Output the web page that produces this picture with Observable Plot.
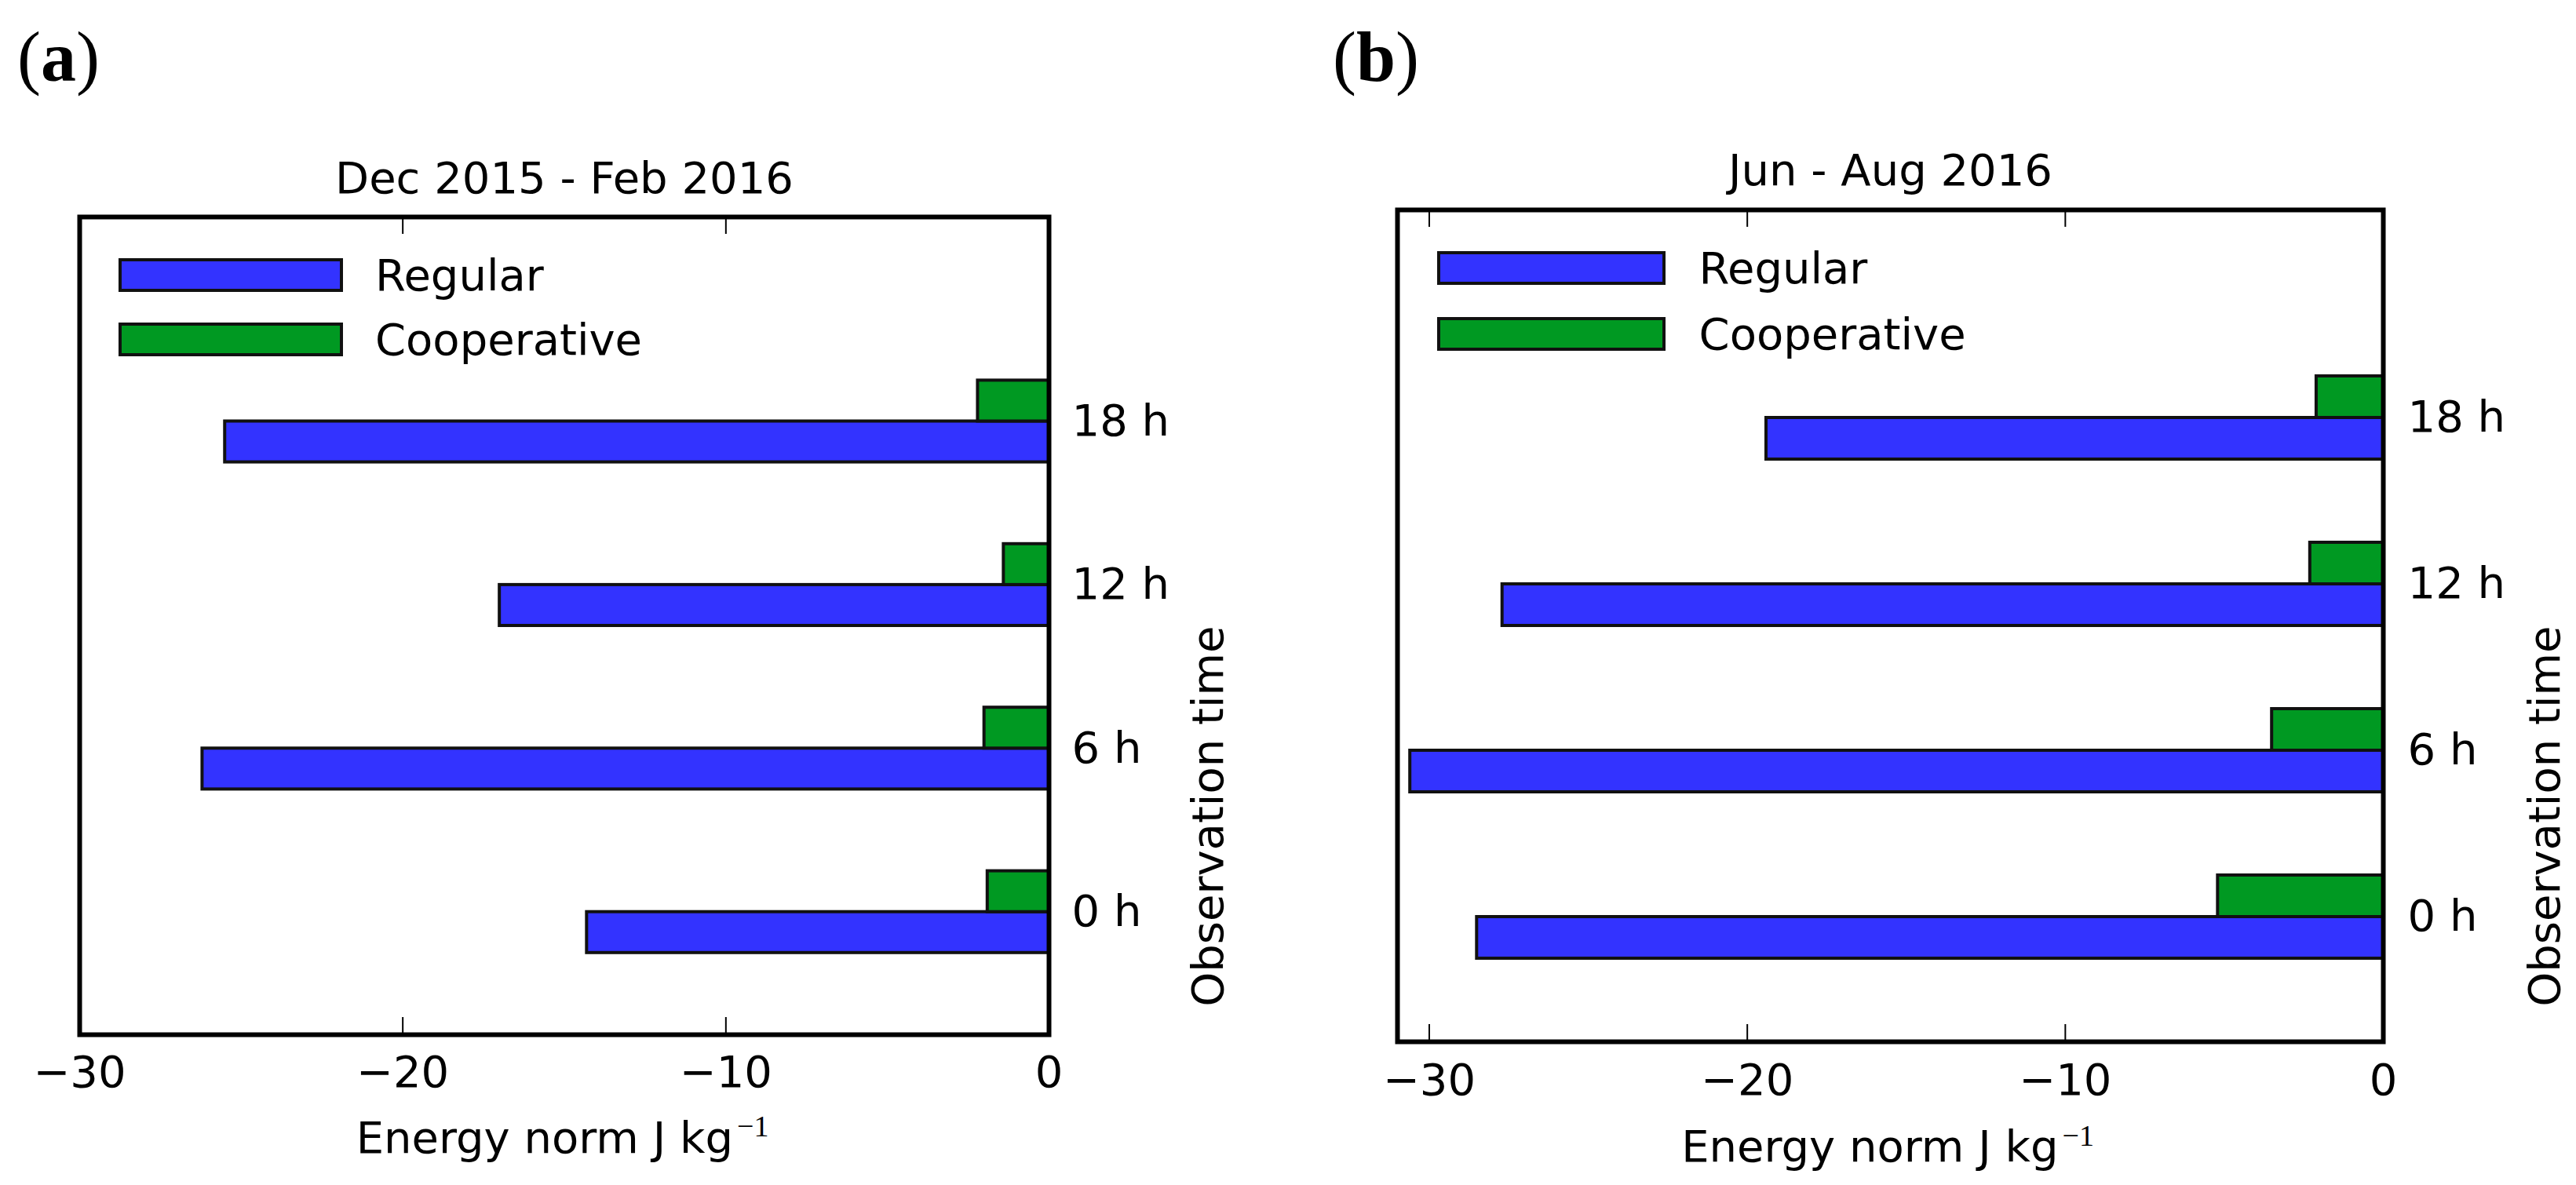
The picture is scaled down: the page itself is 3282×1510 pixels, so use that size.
<!DOCTYPE html>
<html>
<head>
<meta charset="utf-8">
<script src="https://cdn.jsdelivr.net/npm/d3@7"></script>
<script src="https://cdn.jsdelivr.net/npm/@observablehq/plot@0.6"></script>
<style>
  html, body { margin: 0; padding: 0; background: #fff; }
  #root { position: relative; width: 3282px; height: 1510px; background: #fff; overflow: hidden; }
  .panel { position: absolute; top: 0; width: 1641px; height: 1510px; }
  .panel svg.overlay { position: absolute; left: 0; top: 0; pointer-events: none; }
</style>
</head>
<body>
<div id="root"></div>
<script>
// ---------------- data ----------------
const categories = ["0 h", "6 h", "12 h", "18 h"];
const seriesNames = ["Regular", "Cooperative"];
const seriesColors = ["#3333ff", "#009922"];
const regularA = [-14.3, -26.2, -17.0, -25.5];
const cooperativeA = [-1.9, -2.0, -1.4, -2.2];
const regularB = [-28.5, -30.6, -27.7, -19.4];
const cooperativeB = [-5.2, -3.5, -2.3, -2.1];
const xTicks = [-30, -20, -10, 0];
const xDomainA = [-30, 0];
const xDomainB = [-31, 0];
const titles = ["Dec 2015 - Feb 2016", "Jun - Aug 2016"];
const panelLetters = ["a", "b"];
const xLabel = "Energy norm J kg";
const xLabelSup = "\u22121";
const yLabel = "Observation time";

// ---------------- layout ----------------
const barH = 0.25;
const yDomain = [-0.5, 4.5];
const layouts = [
  { left: 0, mt: 276, mr: 305, mb: 192, ml: 101, titleDy: -31, yLabDx: 203.5, yTickPad: 29, xTickPad: 27,
    labDy: 150, labEndDx: 215, supDy: 129, supDx: 220,
    letterX: 22, letterY: 103,
    legX: 153, legW: 282, legY: [331, 413], legH: 39, legTextX: 478, legBase: [370, 452] },
  { left: 1641, mt: 267, mr: 246, mb: 183, ml: 139, titleDy: -32, yLabDx: 206.5, yTickPad: 31, xTickPad: 28,
    labDy: 152.5, labEndDx: 214, supDy: 132, supDx: 219,
    letterX: 57, letterY: 103,
    legX: 192, legW: 287, legY: [322, 406], legH: 39, legTextX: 523.6, legBase: [361, 444.6] }
];
const W = 1641, H = 1510;
const FONT = "DejaVu Sans";

function makePanel(k, regular, coop, xDomain) {
  const L = layouts[k];
  const rows = [];
  categories.forEach((c, i) => {
    rows.push({ cat: c, series: seriesNames[0], value: regular[i], y1: i, y2: i + barH });
    rows.push({ cat: c, series: seriesNames[1], value: coop[i], y1: i + barH, y2: i + 2 * barH });
  });
  const innerH = H - L.mt - L.mb;
  const chart = Plot.plot({
    width: W, height: H,
    marginTop: L.mt, marginRight: L.mr, marginBottom: L.mb, marginLeft: L.ml,
    x: { domain: xDomain },
    y: { domain: yDomain },
    color: { domain: seriesNames, range: seriesColors },
    style: { fontFamily: FONT, fontSize: "56px", background: "white", color: "black", overflow: "visible" },
    marks: [
      Plot.rect(rows, { x1: 0, x2: "value", y1: "y1", y2: "y2", fill: "series", stroke: "#111", strokeWidth: 4 }),
      Plot.ruleX(xTicks, { insetTop: innerH - 22, stroke: "black", strokeWidth: 2 }),
      Plot.ruleX(xTicks, { insetBottom: innerH - 22, stroke: "black", strokeWidth: 2 }),
      Plot.frame({ stroke: "black", strokeWidth: 6 }),
      Plot.axisX({ anchor: "bottom", ticks: xTicks, tickSize: 0, tickPadding: L.xTickPad,
        tickFormat: d3.format("d"), label: null, fontSize: 56 }),
      Plot.axisY({ anchor: "right", ticks: categories.map((c, i) => i + barH), tickSize: 0,
        tickPadding: L.yTickPad, tickFormat: d => categories[Math.round(d - barH)], label: null, fontSize: 56 }),
      Plot.text([titles[k]], { text: d => d, frameAnchor: "top", lineAnchor: "bottom", dy: L.titleDy, fontSize: 56 }),
      Plot.text([yLabel], { text: d => d, frameAnchor: "right", rotate: -90, dx: L.yLabDx, fontSize: 56 }),
      Plot.text([xLabel], { text: d => d, frameAnchor: "bottom", lineAnchor: "bottom", textAnchor: "end",
        dx: L.labEndDx, dy: L.labDy, fontSize: 56 }),
      Plot.text([xLabelSup], { text: d => d, frameAnchor: "bottom", lineAnchor: "bottom", textAnchor: "start",
        dx: L.supDx, dy: L.supDy, fontSize: 38, fontFamily: "Liberation Serif" })
    ]
  });

  const panel = document.createElement("div");
  panel.className = "panel";
  panel.style.left = L.left + "px";
  panel.appendChild(chart);
  document.getElementById("root").appendChild(panel);

  // overlay: panel letter and legend
  const svg = d3.select(panel).append("svg")
    .attr("class", "overlay").attr("width", W).attr("height", H);
  const letter = svg.append("text")
    .attr("x", L.letterX).attr("y", L.letterY)
    .attr("font-family", "Liberation Serif").attr("font-size", 90).attr("fill", "black");
  letter.append("tspan").text("(");
  letter.append("tspan").attr("font-weight", "bold").text(panelLetters[k]);
  letter.append("tspan").text(")");

  seriesNames.forEach((s, j) => {
    svg.append("rect")
      .attr("x", L.legX).attr("y", L.legY[j]).attr("width", L.legW).attr("height", L.legH)
      .attr("fill", seriesColors[j]).attr("stroke", "#111").attr("stroke-width", 4);
    svg.append("text")
      .attr("x", L.legTextX).attr("y", L.legBase[j])
      .attr("font-family", FONT).attr("font-size", 56).attr("fill", "black")
      .text(s);
  });
}

makePanel(0, regularA, cooperativeA, xDomainA);
makePanel(1, regularB, cooperativeB, xDomainB);
</script>
</body>
</html>
